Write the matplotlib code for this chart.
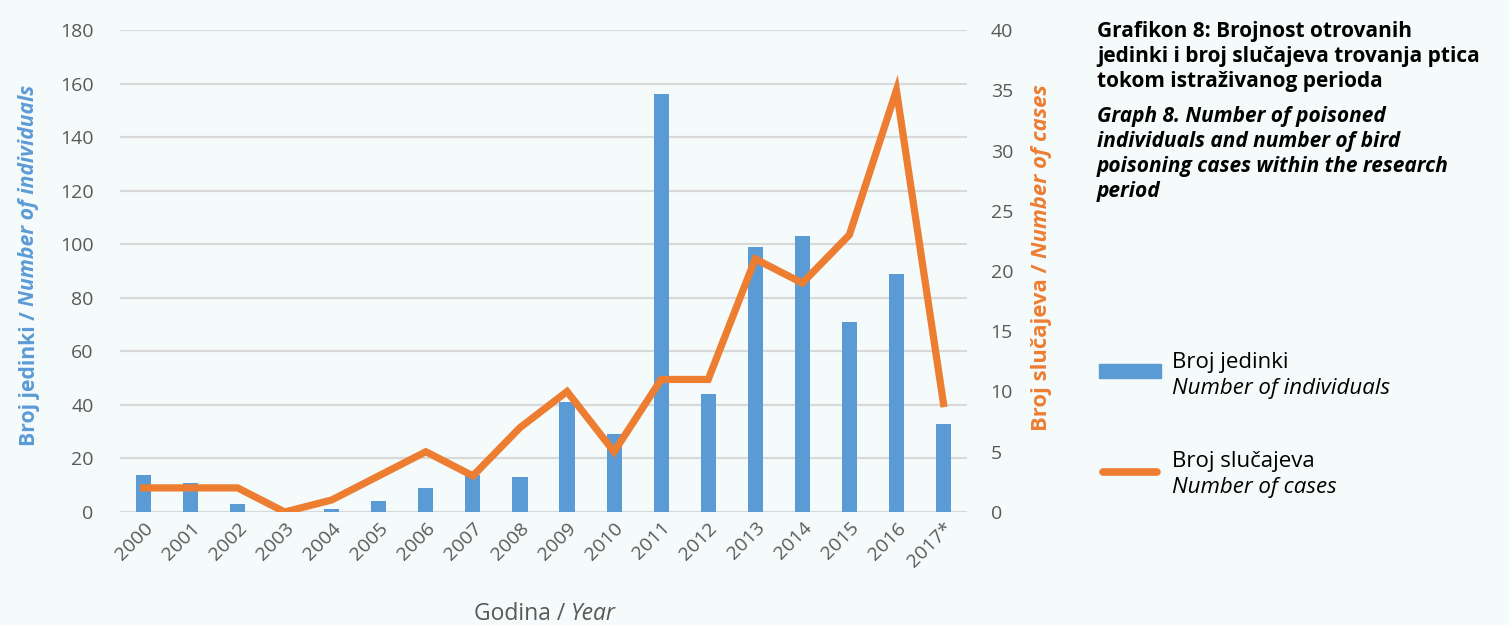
import numpy as np
import matplotlib.pyplot as plt
from matplotlib.lines import Line2D
from matplotlib.patches import Rectangle

plt.rcParams['font.family'] = ['Open Sans', 'DejaVu Sans']

years = ['2000', '2001', '2002', '2003', '2004', '2005', '2006', '2007', '2008',
         '2009', '2010', '2011', '2012', '2013', '2014', '2015', '2016', '2017*']
individuals = [14, 11, 3, 0, 1, 4, 9, 14, 13, 41, 29, 156, 44, 99, 103, 71, 89, 33]
cases = [2, 2, 2, 0, 1, 3, 5, 3, 7, 10, 5, 11, 11, 21, 19, 23, 35, 9]

blue = '#5b9bd5'
orange = '#ed7d31'
bg = '#f5fafa'
grey = '#595959'

W, H = 1509, 625
fig = plt.figure(figsize=(W / 100, H / 100), dpi=100, facecolor=bg)
ax = fig.add_axes([120 / W, 1 - 512 / H, (967 - 120) / W, (512 - 30) / H])
ax.set_facecolor(bg)
ax2 = ax.twinx()

x = np.arange(len(years))
ax.bar(x, individuals, width=0.32, color=blue, zorder=2)
ax2.plot(x, cases, color=orange, lw=5.2, solid_joinstyle='miter', zorder=3)

ax.set_xlim(-0.5, len(years) - 0.5)
ax.set_ylim(0, 180)
ax.set_yticks(range(0, 181, 20))
ax2.set_ylim(0, 40)
ax2.set_yticks(range(0, 41, 5))
ax.yaxis.grid(True, color='#d9d9d9', lw=1.6, zorder=0)
ax.set_axisbelow(True)

for a in (ax, ax2):
    for s in a.spines.values():
        s.set_visible(False)
    a.tick_params(length=0, labelsize=14, labelcolor=grey)
ax.tick_params(axis='y', pad=19)
ax2.tick_params(axis='y', pad=17)
ax.set_xticks(x)
ax.set_xticklabels(years, rotation=45, ha='right', rotation_mode='anchor', fontsize=14)
ax.tick_params(axis='x', pad=5)

fig.canvas.draw()
r = fig.canvas.get_renderer()


def chain_h(px, py, parts, **kw):
    # horizontal run of text pieces with different styles
    xx = px
    for s, style in parts:
        t = fig.text(xx / W, 1 - py / H, s, style=style, va='baseline', ha='left', **kw)
        bb = t.get_window_extent(r)
        xx += bb.width


def chain_v(px, py, parts, **kw):
    # vertical run (rotated 90) reading bottom to top
    yy = py
    for s, style in parts:
        t = fig.text(px / W, 1 - yy / H, s, style=style, rotation=90,
                     ha='center', va='bottom', **kw)
        bb = t.get_window_extent(r)
        yy -= bb.height


chain_h(474, 620, [('Godina / ', 'normal'), ('Year', 'italic')], fontsize=16.5, color=grey)
chain_v(29, 446, [('Broj jedinki / ', 'normal'), ('Number of individuals', 'italic')],
        fontsize=15.2, color=blue, fontweight='bold')
chain_v(1041, 431, [('Broj slučajeva / ', 'normal'), ('Number of cases', 'italic')],
        fontsize=15.8, color=orange, fontweight='bold')

fig.text(1097 / W, 1 - 21 / H,
         'Grafikon 8: Brojnost otrovanih\njedinki i broj slučajeva trovanja ptica\ntokom istraživanog perioda',
         fontsize=15, fontweight='bold', va='top', ha='left', linespacing=1.24, color='black')
fig.text(1097 / W, 1 - 106 / H,
         'Graph 8. Number of poisoned\nindividuals and number of bird\npoisoning cases within the research\nperiod',
         fontsize=15, fontweight='bold', style='italic', va='top', ha='left', linespacing=1.24, color='black')

# legend
fig.add_artist(Rectangle((1099 / W, 1 - 378 / H), 62 / W, 14 / H, color=blue, transform=fig.transFigure))
fig.add_artist(Line2D([1103 / W, 1157 / W], [1 - 472 / H, 1 - 472 / H], color=orange, lw=5.5,
                      solid_capstyle='round', transform=fig.transFigure))
fig.text(1172 / W, 1 - 368 / H, 'Broj jedinki', fontsize=16, va='baseline', color='black')
fig.text(1172 / W, 1 - 394 / H, 'Number of individuals', fontsize=16, style='italic', va='baseline', color='black')
fig.text(1172 / W, 1 - 467 / H, 'Broj slučajeva', fontsize=16, va='baseline', color='black')
fig.text(1172 / W, 1 - 493 / H, 'Number of cases', fontsize=16, style='italic', va='baseline', color='black')

fig.savefig('out.png', dpi=100, facecolor=bg)
